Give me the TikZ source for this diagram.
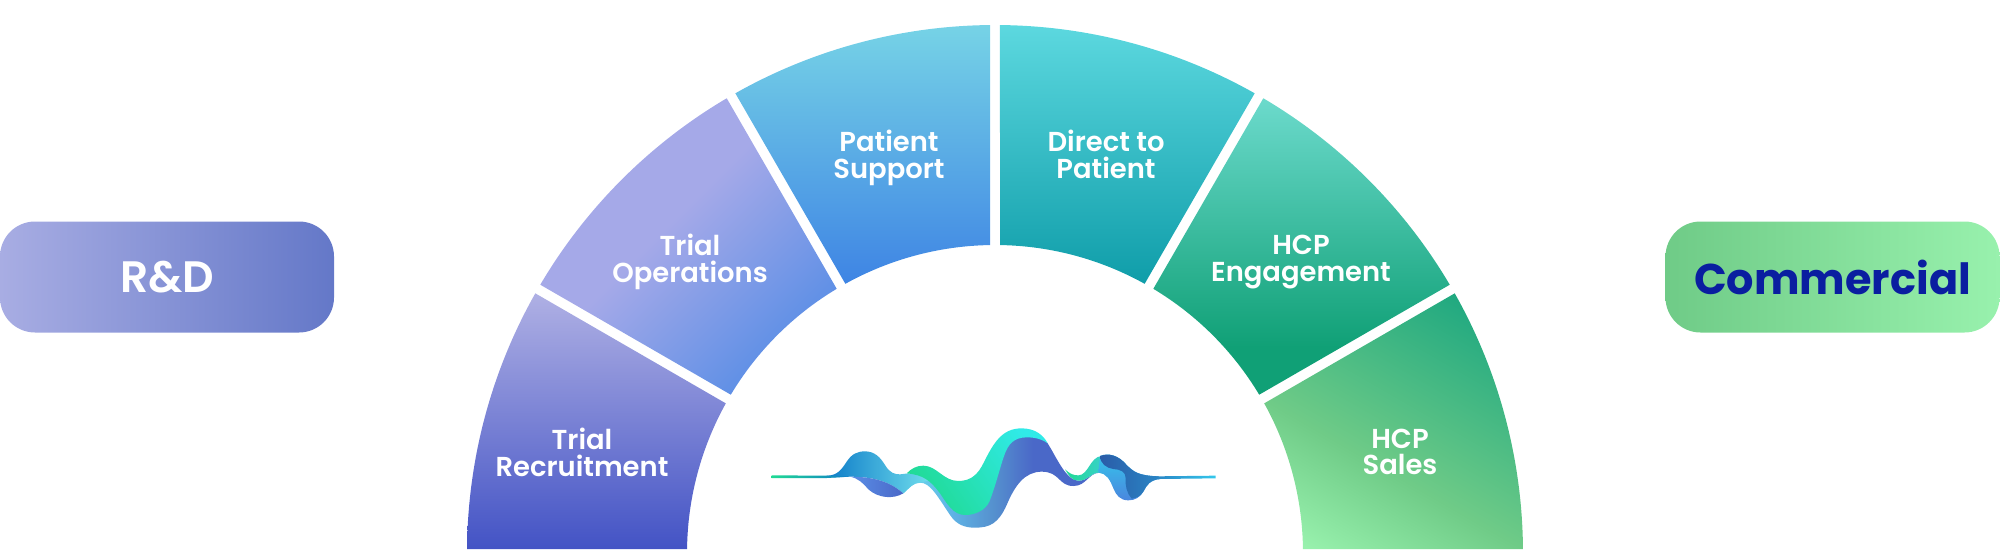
\documentclass[tikz,border=0pt]{standalone}
\usepackage{fontspec}
\newfontfamily\popfont{Poppins SemiBold}
\newfontfamily\popbold{Poppins}[UprightFont=* Bold]
\usetikzlibrary{calc,positioning}
\definecolor{lavA}{HTML}{AFB0E4}
\definecolor{lavB}{HTML}{4353C5}
\definecolor{lavC}{HTML}{A5A9E8}
\definecolor{bluC}{HTML}{5A8EE6}
\definecolor{skyA}{HTML}{76D3E6}
\definecolor{bluA}{HTML}{3E84E4}
\definecolor{teaA}{HTML}{5CD8DF}
\definecolor{teaB}{HTML}{0F9DA9}
\definecolor{greA}{HTML}{6CDACC}
\definecolor{greB}{HTML}{10A076}
\definecolor{greC}{HTML}{1FA880}
\definecolor{minA}{HTML}{98F1AD}
\definecolor{minB}{HTML}{6FCB87}
\definecolor{rndA}{HTML}{A8ADE3}
\definecolor{rndB}{HTML}{6478C8}
\definecolor{navy}{HTML}{0A1EA0}
\definecolor{wavG}{HTML}{20DA94}
\definecolor{wavT}{HTML}{30EAE8}
\definecolor{wavB}{HTML}{0E7CC8}
\definecolor{wavC}{HTML}{6EDCEC}
\definecolor{wavL}{HTML}{5FB4E6}
\definecolor{wavM}{HTML}{5590CE}
\definecolor{wavP}{HTML}{4A68C8}
\definecolor{wavD}{HTML}{2A5CA8}
\definecolor{wavE}{HTML}{2A86C6}
\definecolor{wavS}{HTML}{34C8EC}
\definecolor{wavI}{HTML}{4A86DE}
\definecolor{wavK}{HTML}{3AD0CC}
\pgfdeclarehorizontalshading{wavband}{100bp}{color(0bp)=(wavC);color(25bp)=(wavC);color(37bp)=(wavL);color(48bp)=(wavM);color(58bp)=(wavP);color(100bp)=(wavP)}
\pgfdeclarehorizontalshading{salesband}{100bp}{color(0bp)=(minA);color(20bp)=(minA);color(41bp)=(minB);color(78bp)=(greC);color(100bp)=(greC)}
\pgfdeclarehorizontalshading{opsband}{100bp}{color(0bp)=(lavC);color(45bp)=(lavC);color(75bp)=(bluC);color(100bp)=(bluC)}
\pgfdeclareverticalshading{engageband}{100bp}{color(0bp)=(greB);color(33bp)=(greB);color(75bp)=(greA);color(100bp)=(greA)}
\tikzset{
  seclabel/.style={text=white,align=center,font=\popfont\fontsize{13.7}{13.4}\selectfont},
  sidebox/.style={rounded corners=17.5pt,minimum width=167pt,minimum height=55.5pt,inner sep=0pt},
}
\begin{document}
\begin{tikzpicture}[x=0.5pt,y=0.5pt]
\useasboundingbox(0,0)rectangle(2000,553);
\begin{scope}[shift={(995,0)}]
\shade[top color=lavA,bottom color=lavB](179.57:528)arc[start angle=179.57,end angle=150.54,radius=528]--(150.93:308)arc[start angle=150.93,end angle=179.26,radius=308]--cycle;
\shade[shading=opsband,shading angle=-45](149.46:528)arc[start angle=149.46,end angle=120.54,radius=528]--(120.93:308)arc[start angle=120.93,end angle=149.07,radius=308]--cycle;
\shade[top color=skyA,bottom color=bluA](119.46:528)arc[start angle=119.46,end angle=90.54,radius=528]--(90.93:308)arc[start angle=90.93,end angle=119.07,radius=308]--cycle;
\shade[top color=teaA,bottom color=teaB](89.46:528)arc[start angle=89.46,end angle=60.54,radius=528]--(60.93:308)arc[start angle=60.93,end angle=89.07,radius=308]--cycle;
\shade[shading=engageband](59.46:528)arc[start angle=59.46,end angle=30.54,radius=528]--(30.93:308)arc[start angle=30.93,end angle=59.07,radius=308]--cycle;
\shade[shading=salesband,shading angle=60](29.46:528)arc[start angle=29.46,end angle=0.43,radius=528]--(0.74:308)arc[start angle=0.74,end angle=29.07,radius=308]--cycle;
\end{scope}
\node[seclabel](recruit) at (582,101){Trial\\Recruitment};
\node[seclabel](ops) at (690,291){Trial\\Operations};
\node[seclabel](support) at (889,395){Patient\\Support};
\node[seclabel](direct) at (1106,399){Direct to\\Patient};
\node[seclabel](engage) at (1301,291){HCP\\Engagement};
\node[seclabel](sales) at (1400,101){HCP\\Sales};
\node[sidebox,left color=rndA,right color=rndB,text=white,font=\popfont\fontsize{22}{22}\selectfont](rnd) at (167,276){R\&D};
\node[sidebox,left color=minB,right color=minA,text=navy,font=\popbold\fontsize{21.5}{21.5}\selectfont](comm) at (1832.5,276){Commercial};
\begin{scope}[shift={(750,143)},x=0.16667pt,y=-0.16667pt]
\shade[shading=wavband](460,250)..controls(480,232)and(490,218)..(510,218)..controls(540,218)and(560,255)..(600,315)..controls(620,345)and(645,353)..(675,353)..controls(720,353)and(745,340)..(770,285)..controls(795,225)and(825,185)..(875,185)..controls(930,185)and(925,228)..(970,228)..controls(1010,228)and(1015,188)..(1050,188)--(1045,188)..controls(1020,190)and(1015,212)..(985,212)..controls(955,212)and(930,165)..(905,120)--(893,100)--(870,78)--(830,72)--(770,90)--(740,170)--(700,250)--(540,210)--(490,190)--cycle;
\shade[left color=wavB,right color=wavC](230,197)..controls(262,197)and(275,178)..(290,155)..controls(305,132)and(322,124)..(345,124)..controls(372,124)and(390,140)..(405,165)..controls(420,190)and(435,193)..(450,193)..controls(460,193)and(465,192)..(475,190)..controls(500,190)and(520,198)..(535,212)--(510,218)..controls(490,218)and(480,232)..(460,250)..controls(430,225)and(390,200)..(300,200)--(230,203)--cycle;
\shade[left color=bluC,right color=wavP](300,200)..controls(390,200)and(430,225)..(460,250)..controls(430,268)and(385,265)..(355,238)..controls(340,220)and(325,205)..(300,200)--cycle;
\shade[left color=wavG,right color=wavB](65,196)--(230,197)--(300,200)--(230,204)--(65,204)--cycle;
\shade[left color=wavG,middle color=wavG,right color=wavT,shading angle=125](470,190)..controls(485,175)and(500,167)..(520,167)..controls(560,167)and(580,213)..(625,213)..controls(665,213)and(685,190)..(700,160)..controls(730,100)and(755,55)..(815,55)..controls(855,55)and(880,75)..(893,100)..controls(880,90)and(860,82)..(830,82)..controls(790,82)and(775,105)..(765,130)..controls(750,170)and(738,225)..(718,275)..controls(705,302)and(675,315)..(645,315)..controls(610,315)and(590,280)..(570,250)..controls(540,210)and(520,195)..(470,190)--cycle;
\shade[left color=wavG,right color=wavK](945,178)..controls(960,192)and(970,196)..(985,196)..controls(1015,196)and(1020,140)..(1055,138)--(1065,192)--(1045,188)..controls(1020,190)and(1015,212)..(985,212)..controls(965,212)and(955,195)..(945,178)--cycle;
\shade[top color=wavS,bottom color=wavI](1050,138)..controls(1075,128)and(1105,135)..(1130,165)..controls(1150,185)and(1165,197)..(1225,199)--(1230,207)..controls(1200,210)and(1190,225)..(1180,245)..controls(1170,262)and(1155,271)..(1135,271)..controls(1110,271)and(1098,255)..(1090,235)..controls(1080,210)and(1070,190)..(1045,188)--cycle;
\shade[left color=wavD,right color=wavE](1050,138)..controls(1075,128)and(1105,135)..(1130,165)..controls(1150,185)and(1165,197)..(1225,199)--(1230,207)..controls(1200,210)and(1190,225)..(1180,245)..controls(1172,258)and(1160,264)..(1145,266)..controls(1130,250)and(1125,225)..(1127,205)..controls(1128,185)and(1110,178)..(1090,177)..controls(1070,175)and(1050,160)..(1050,138)--cycle;
\shade[left color=wavE,right color=wavS](1220,199)--(1397,197)--(1397,205)--(1225,207)--cycle;
\end{scope}
\end{tikzpicture}
\end{document}
